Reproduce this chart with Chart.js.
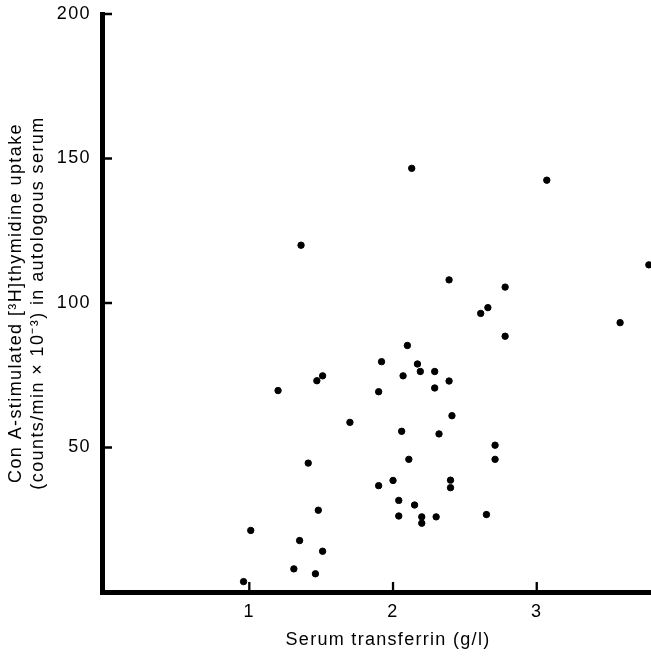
<!DOCTYPE html>
<html>
<head>
<meta charset="utf-8">
<script src="https://cdn.jsdelivr.net/npm/chart.js@4.4.1/dist/chart.umd.min.js"></script>
<style>
  html, body { margin: 0; padding: 0; background: #fff; }
  #wrap { width: 651px; height: 660px; position: relative; }
</style>
</head>
<body>
<div id="wrap"><canvas id="scatter"></canvas></div>
<script>
// serum transferrin (g/l) vs Con A-stimulated uptake
const transferrin = [
  2.13, 3.07, 1.36, 3.78, 2.39, 2.78, 2.66, 2.61,
  3.58, 2.78, 2.10, 1.92, 2.17, 2.19, 2.29, 1.51, 2.07, 1.47, 2.39,
  1.20, 1.90, 2.29, 2.41, 1.70, 2.06, 2.32, 2.71, 2.71, 2.11, 1.41,
  2.00, 2.40, 2.40, 1.90, 2.04, 2.15, 1.48, 2.04, 2.20, 2.30, 2.20,
  2.65, 1.01, 1.35, 1.51, 1.31, 1.46, 0.96
];
const uptake = [
  146.6, 142.5, 120.0, 113.2, 108.0, 105.5, 98.4, 96.4,
  93.2, 88.5, 85.3, 79.7, 78.9, 76.3, 76.3, 74.8, 74.8, 73.1, 73.0,
  69.7, 69.3, 70.6, 61.0, 58.7, 55.6, 54.7, 50.8, 45.9, 45.9, 44.6,
  38.6, 38.7, 36.1, 36.8, 31.7, 30.1, 28.3, 26.3, 26.0, 26.0, 23.8,
  26.8, 21.3, 17.8, 14.1, 8.0, 6.3, 3.6
];
const xTicks = [1, 2, 3];
const yTicks = [50, 100, 150, 200];
const xTitle = 'Serum transferrin (g/l)';
const yTitle = ['Con A-stimulated [\u00b3H]thymidine uptake', '(counts/min \u00d7 10\u207b\u00b3) in autologous serum'];

const points = transferrin.map((x, i) => ({ x: x, y: uptake[i] }));
const fontFamily = "'Liberation Sans', Arial, sans-serif";

// the printed figure uses loosely tracked lettering
const spacing = {
    id: 'spacing',
    beforeDraw(chart) { chart.ctx.letterSpacing = '1.4px'; }
};

// short tick marks pointing into the plot + the x title (sits right of centre in the original)
const innerTicks = {
    id: 'innerTicks',
    afterDraw(chart) {
        const { ctx, chartArea, scales } = chart;
        ctx.save();
        ctx.strokeStyle = '#000';
        ctx.lineWidth = 2.3;
        ctx.beginPath();
        yTicks.forEach(v => {
            const py = scales.y.getPixelForValue(v);
            ctx.moveTo(chartArea.left, py);
            ctx.lineTo(chartArea.left + 10, py);
        });
        xTicks.forEach(v => {
            const px = scales.x.getPixelForValue(v);
            ctx.moveTo(px, chartArea.bottom);
            ctx.lineTo(px, chartArea.bottom - 10);
        });
        ctx.stroke();

        ctx.fillStyle = '#000';
        ctx.font = '18px ' + fontFamily;
        ctx.letterSpacing = '1.3px';
        ctx.textAlign = 'center';
        ctx.textBaseline = 'alphabetic';
        ctx.fillText(xTitle, 388, 645);
        ctx.restore();
    }
};

new Chart(document.getElementById('scatter').getContext('2d'), {
    type: 'scatter',
    data: {
        datasets: [{
            data: points,
            backgroundColor: '#000',
            borderColor: '#000',
            pointRadius: 3.2,
            pointHoverRadius: 3.2,
            clip: false
        }]
    },
    options: {
        responsive: true,
        maintainAspectRatio: false,
        animation: false,
        layout: { autoPadding: false, padding: { top: 14, right: 0, left: 0, bottom: 0 } },
        plugins: { legend: { display: false }, tooltip: { enabled: false } },
        scales: {
            x: {
                type: 'linear',
                min: -0.025,
                max: 3.795,
                afterBuildTicks: s => { s.ticks = xTicks.map(v => ({ value: v })); },
                afterFit: s => { s.height = 68; s.paddingLeft = 0; s.paddingRight = 0; },
                grid: { drawOnChartArea: false, drawTicks: false },
                border: { display: true, color: '#000', width: 5 },
                ticks: { color: '#000', padding: 9, maxRotation: 0, font: { family: fontFamily, size: 18 } }
            },
            y: {
                type: 'linear',
                min: 0,
                max: 200,
                afterBuildTicks: s => { s.ticks = yTicks.map(v => ({ value: v })); },
                afterFit: s => { s.width = 102; s.paddingTop = 0; s.paddingBottom = 0; },
                grid: { drawOnChartArea: false, drawTicks: false },
                border: { display: true, color: '#000', width: 5 },
                ticks: { color: '#000', padding: 11, font: { family: fontFamily, size: 18 } },
                title: {
                    display: true,
                    text: yTitle,
                    color: '#000',
                    padding: { top: 5, bottom: 0 },
                    font: { family: fontFamily, size: 18, lineHeight: 1.24 }
                }
            }
        }
    },
    plugins: [spacing, innerTicks]
});
</script>
</body>
</html>
